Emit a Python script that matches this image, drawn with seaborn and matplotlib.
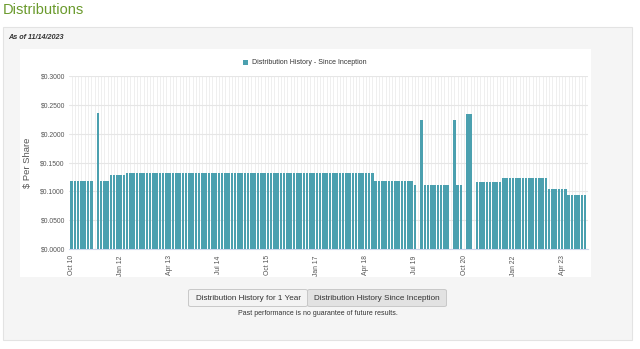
import numpy as np
import pandas as pd
import matplotlib
matplotlib.use("Agg")
import matplotlib.pyplot as plt
import seaborn as sns
from matplotlib.patches import Rectangle, FancyBboxPatch
from matplotlib.ticker import FuncFormatter

# ---------------- data ----------------
months = pd.period_range("2010-10", "2023-11", freq="M").strftime("%b %y").tolist()
nan = np.nan
values = [
    # 2010 Oct-Dec
    0.118, 0.118, 0.118,
    # 2011
    0.118, 0.118, 0.118, 0.118, nan, 0.236, 0.118, 0.118, 0.118, 0.129, 0.129, 0.129,
    # 2012
    0.129, 0.129, 0.1315, 0.1315, 0.1315, 0.1315, 0.1315, 0.1315, 0.1315, 0.1315, 0.1315, 0.1315,
    # 2013
    0.1315, 0.1315, 0.1315, 0.1315, 0.1315, 0.1315, 0.1315, 0.1315, 0.1315, 0.1315, 0.1315, 0.1315,
    # 2014
    0.1315, 0.1315, 0.1315, 0.1315, 0.1315, 0.1315, 0.1315, 0.1315, 0.1315, 0.1315, 0.1315, 0.1315,
    # 2015
    0.1315, 0.1315, 0.1315, 0.1315, 0.1315, 0.1315, 0.1315, 0.1315, 0.1315, 0.1315, 0.1315, 0.1315,
    # 2016
    0.1315, 0.1315, 0.1315, 0.1315, 0.1315, 0.1315, 0.1315, 0.1315, 0.1315, 0.1315, 0.1315, 0.1315,
    # 2017
    0.1315, 0.1315, 0.1315, 0.1315, 0.1315, 0.1315, 0.1315, 0.1315, 0.1315, 0.1315, 0.1315, 0.1315,
    # 2018
    0.1315, 0.1315, 0.1315, 0.1315, 0.1315, 0.1315, 0.1185, 0.1185, 0.1185, 0.1185, 0.1185, 0.1185,
    # 2019
    0.1185, 0.1185, 0.1185, 0.1185, 0.1185, 0.1185, 0.1115, nan, 0.2235, 0.1115, 0.1115, 0.1115,
    # 2020
    0.1115, 0.1115, 0.1115, 0.1115, 0.1115, nan, 0.2235, 0.1115, 0.1115, nan, 0.234, 0.234,
    # 2021
    nan, 0.117, 0.117, 0.117, 0.117, 0.117, 0.117, 0.117, 0.117, 0.1235, 0.1235, 0.1235,
    # 2022
    0.1235, 0.1235, 0.1235, 0.1235, 0.1235, 0.1235, 0.1235, 0.1235, 0.1235, 0.1235, 0.1235, 0.1035,
    # 2023 Jan-Nov
    0.1035, 0.1035, 0.1035, 0.1035, 0.1035, 0.0935, 0.0935, 0.0935, 0.0935, 0.0935, 0.0935,
]
tick_labels = ["Oct 10", "Jan 12", "Apr 13", "Jul 14", "Oct 15", "Jan 17",
               "Apr 18", "Jul 19", "Oct 20", "Jan 22", "Apr 23"]
y_ticks = [0.0, 0.05, 0.10, 0.15, 0.20, 0.25, 0.30]
series_name = "Distribution History - Since Inception"

df = pd.DataFrame({"month": months, "value": values})

# ---------------- style ----------------
sns.set_style("white")
plt.rcParams["font.family"] = ["Liberation Sans", "DejaVu Sans"]

W, H = 640, 349
fig = plt.figure(figsize=(W / 100, H / 100), dpi=100)
fig.patch.set_facecolor("white")

def fx(x):
    return x / W

def fy(y):
    return 1 - y / H

def rect(x0, y0, x1, y1, fc, ec="none", lw=0.8, z=0):
    fig.patches.append(Rectangle((fx(x0), fy(y1)), fx(x1) - fx(x0), fy(y0) - fy(y1),
                                 transform=fig.transFigure, facecolor=fc,
                                 edgecolor=ec, linewidth=lw, zorder=z))

# outer grey panel and white chart box
rect(3, 27, 632, 340, "#f5f5f5", "#e3e3e3", 0.8, z=0)
rect(20, 49, 591, 277, "white", "none", z=1)

fig.text(fx(3), fy(9.5), "Distributions", color="#6a9a2c", fontsize=10.5,
         ha="left", va="center")
fig.text(fx(8), fy(37.5), "As of 11/14/2023", color="#333333", fontsize=5.2,
         fontweight="bold", style="italic", ha="left", va="center")

# legend
rect(243, 59.5, 248, 64.5, "#4ba0af", z=3)
fig.text(fx(252), fy(62), series_name, color="#333333", fontsize=5.0,
         ha="left", va="center", zorder=3)

# ---------------- chart ----------------
ax = fig.add_axes([fx(69), fy(249), fx(588) - fx(69), fy(76) - fy(249)])
ax.set_zorder(2)
ax.set_facecolor("white")

sns.barplot(data=df, x="month", y="value", order=months, color="#4ba0af",
            saturation=1, width=0.78, errorbar=None, ax=ax, zorder=3,
            edgecolor="none")

ax.set_xlim(-0.8, 157.9)
ax.set_ylim(0, 0.3)
ax.set_yticks(y_ticks)
ax.yaxis.set_major_formatter(FuncFormatter(lambda v, p: f"${v:.4f}"))
ax.set_xticks(range(0, 151, 15))
ax.set_xticklabels(tick_labels, rotation=90)
ax.set_xticks(range(len(months)), minor=True)

ax.grid(True, axis="y", color="#e6e6e6", linewidth=0.8, zorder=0)
ax.grid(True, axis="x", which="both", color="#ececec", linewidth=0.6, zorder=0)
ax.set_axisbelow(True)

for s in ["top", "right", "left"]:
    ax.spines[s].set_visible(False)
ax.spines["bottom"].set_color("#ccd6eb")
ax.spines["bottom"].set_linewidth(0.8)

ax.tick_params(axis="y", length=0, labelsize=4.9, labelcolor="#555555", pad=3)
ax.tick_params(axis="x", which="major", length=2.5, color="#ccd6eb",
               labelsize=4.9, labelcolor="#555555", pad=2)
ax.tick_params(axis="x", which="minor", length=2, color="#ccd6eb")
ax.set_xlabel("")
ax.set_ylabel("$ Per Share", fontsize=6.8, color="#555555")
ax.yaxis.set_label_coords((32 - 69) / 519, 0.5)

# ---------------- buttons ----------------
def button(x0, x1, y0, y1, fc, label):
    p = FancyBboxPatch((fx(x0), fy(y1)), fx(x1) - fx(x0), fy(y0) - fy(y1),
                       boxstyle="round,pad=0,rounding_size=0.004",
                       transform=fig.transFigure, facecolor=fc,
                       edgecolor="#c8c8c8", linewidth=0.7, zorder=2)
    fig.patches.append(p)
    fig.text(fx((x0 + x1) / 2), fy((y0 + y1) / 2), label, color="#333333",
             fontsize=5.85, ha="center", va="center", zorder=3)

button(188.5, 307.5, 289.5, 306.5, "#f3f3f3", "Distribution History for 1 Year")
button(307.5, 446.5, 289.5, 306.5, "#e2e2e2", "Distribution History Since Inception")

fig.text(fx(317.5), fy(313.5), "Past performance is no guarantee of future results.",
         color="#333333", fontsize=5.0, ha="center", va="center")

fig.savefig("out.png", dpi=100)
